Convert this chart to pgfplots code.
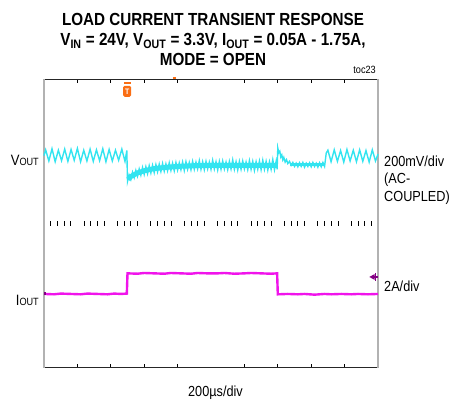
\documentclass[border=0pt]{standalone}
\usepackage{pgfplots}
\pgfplotsset{compat=1.18}
\usepackage{fontspec}
\setmainfont[FakeStretch=0.87]{Liberation Sans}
\definecolor{vout}{RGB}{50,228,240}
\definecolor{iout}{RGB}{240,20,235}
\definecolor{trig}{RGB}{250,110,20}
\definecolor{gnd}{RGB}{130,0,130}
\begin{document}
\begin{tikzpicture}
\useasboundingbox (0,0) rectangle (451pt,400pt);
\begin{axis}[
    at={(44pt,32pt)}, anchor=south west,
    scale only axis, width=334pt, height=289pt,
    xmin=0, xmax=10, ymin=-4, ymax=4,
    xtick={1,2,3,4,6,7,8,9}, xticklabels={},
    ytick=\empty,
    tick align=inside, major tick length=4pt,
    tick style={black, line width=0.8pt},
    separate axis lines,
    x axis line style={black!85, line width=1pt},
    y axis line style={black!30, line width=1.6pt},
    clip=false,
]
% centre graticule dashes
\addplot[only marks, mark=|, mark size=2.5pt, mark options={black, line width=0.8pt}] coordinates {
 (0.2,0)(0.4,0)(0.6,0)(0.8,0)(1.2,0)(1.4,0)(1.6,0)(1.8,0)(2.2,0)(2.4,0)(2.6,0)(2.8,0)
 (3.2,0)(3.4,0)(3.6,0)(3.8,0)(4.2,0)(4.4,0)(4.6,0)(4.8,0)(5.2,0)(5.4,0)(5.6,0)(5.8,0)
 (6.2,0)(6.4,0)(6.6,0)(6.8,0)(7.2,0)(7.4,0)(7.6,0)(7.8,0)(8.2,0)(8.4,0)(8.6,0)(8.8,0)
 (9.2,0)(9.4,0)(9.6,0)(9.8,0)};
% VOUT: solid core of the noise band
\addplot[vout, line width=5pt] coordinates {
 (2.52,1.22)(2.6,1.30)(2.8,1.40)(3.0,1.46)(3.3,1.52)(3.6,1.55)(4.0,1.58)(4.5,1.60)
 (5.0,1.61)(6.0,1.61)(6.97,1.61)};
\addplot[vout, line width=3pt] coordinates {(7.38,1.63)(8.40,1.63)};
% VOUT trace
\addplot[vout, line width=1.4pt] coordinates {
 (0,1.88)(0.05,2.04)(0.145,1.73)(0.24,2.07)(0.335,1.71)(0.43,2.03)(0.525,1.74)(0.62,2.06)
 (0.715,1.72)(0.81,2.05)(0.905,1.75)(1.00,2.08)(1.095,1.71)(1.19,2.03)(1.285,1.73)(1.38,2.06)
 (1.475,1.72)(1.57,2.04)(1.665,1.74)(1.76,2.07)(1.855,1.71)(1.95,2.05)(2.045,1.73)(2.14,2.03)
 (2.235,1.75)(2.33,2.06)(2.425,1.72)(2.48,2.02)
 (2.50,1.16)(2.55,1.34)(2.60,1.22)(2.65,1.42)(2.70,1.27)(2.75,1.47)(2.80,1.31)(2.85,1.51)
 (2.90,1.34)(2.95,1.55)(3.00,1.36)(3.05,1.57)(3.10,1.38)(3.15,1.60)(3.20,1.40)(3.25,1.61)
 (3.30,1.41)(3.35,1.63)(3.40,1.43)(3.45,1.64)(3.50,1.44)(3.55,1.66)(3.60,1.45)(3.65,1.65)
 (3.70,1.46)(3.75,1.68)(3.80,1.47)(3.85,1.67)(3.90,1.46)(3.95,1.69)(4.00,1.48)(4.05,1.68)
 (4.10,1.49)(4.15,1.70)(4.20,1.47)(4.25,1.71)(4.30,1.50)(4.35,1.69)(4.40,1.49)(4.45,1.72)
 (4.50,1.50)(4.55,1.70)(4.60,1.51)(4.65,1.74)(4.70,1.50)(4.75,1.71)(4.80,1.49)(4.85,1.72)
 (4.90,1.51)(4.95,1.70)(5.00,1.50)(5.05,1.75)(5.10,1.51)(5.15,1.71)(5.20,1.48)(5.25,1.72)
 (5.30,1.50)(5.35,1.73)(5.40,1.51)(5.45,1.70)(5.50,1.49)(5.55,1.72)(5.60,1.51)(5.65,1.76)
 (5.70,1.50)(5.75,1.71)(5.80,1.48)(5.85,1.72)(5.90,1.50)(5.95,1.73)(6.00,1.51)(6.05,1.70)
 (6.10,1.49)(6.15,1.74)(6.20,1.50)(6.25,1.72)(6.30,1.47)(6.35,1.71)(6.40,1.50)(6.45,1.73)
 (6.50,1.49)(6.55,1.75)(6.60,1.50)(6.65,1.72)(6.70,1.48)(6.75,1.71)(6.80,1.50)(6.85,1.77)
 (6.90,1.49)(6.95,1.72)(6.98,1.50)
 (7.00,2.09)(7.03,1.96)(7.06,2.00)(7.09,1.84)(7.12,1.90)(7.15,1.76)(7.18,1.83)(7.22,1.70)
 (7.26,1.77)(7.30,1.66)(7.35,1.72)(7.40,1.61)(7.45,1.69)(7.50,1.58)(7.55,1.67)(7.60,1.57)
 (7.65,1.68)(7.70,1.58)(7.75,1.69)(7.80,1.56)(7.85,1.67)(7.90,1.58)(7.95,1.68)(8.00,1.57)
 (8.05,1.69)(8.10,1.58)(8.15,1.67)(8.20,1.56)(8.25,1.68)(8.30,1.57)(8.35,1.69)(8.40,1.58)
 (8.45,1.95)(8.50,2.03)(8.595,1.71)(8.69,2.04)(8.785,1.72)(8.88,2.02)(8.975,1.70)(9.07,2.05)
 (9.165,1.73)(9.26,2.03)(9.355,1.71)(9.45,2.04)(9.545,1.72)(9.64,2.02)(9.735,1.70)(9.83,2.04)
 (9.925,1.73)(10.0,1.92)};
% IOUT
\addplot[iout, line width=2.4pt] coordinates {
 (0,-1.95)(0.3,-1.96)(0.5,-1.94)(0.8,-1.95)(1.1,-1.96)(1.3,-1.94)(1.6,-1.95)(1.9,-1.96)
 (2.1,-1.94)(2.3,-1.95)(2.48,-1.94)
 (2.50,-1.38)(2.8,-1.39)(3.0,-1.37)(3.3,-1.38)(3.6,-1.39)(3.8,-1.37)(4.1,-1.38)(4.4,-1.39)
 (4.6,-1.37)(4.9,-1.38)(5.2,-1.38)(5.4,-1.37)(5.7,-1.39)(6.0,-1.38)(6.2,-1.37)(6.5,-1.38)
 (6.8,-1.39)(6.98,-1.38)
 (7.00,-1.96)(7.3,-1.95)(7.6,-1.96)(7.8,-1.95)(8.1,-1.97)(8.4,-1.95)(8.6,-1.96)(8.9,-1.95)
 (9.2,-1.96)(9.4,-1.95)(9.7,-1.96)(10.0,-1.95)};
% markers
\fill[gnd] (axis cs:0,-1.99) rectangle (axis cs:0.07,-1.89);
\fill[gnd] (axis cs:9.74,-1.48) -- (axis cs:9.90,-1.40) -- (axis cs:9.90,-1.56) -- cycle;
\draw[gnd, line width=1.1pt] (axis cs:9.84,-1.48) -- (axis cs:10.0,-1.48);
\draw[gnd, line width=1.1pt] (axis cs:9.93,-1.37) -- (axis cs:9.93,-1.59);
\draw[trig, line width=2pt] (axis cs:2.39,3.90) -- (axis cs:2.59,3.90);
\node[fill=trig, text=white, font=\bfseries\fontsize{8}{8}\selectfont, inner sep=0pt,
      minimum width=8pt, minimum height=11pt, rounded corners=1.5pt] at (axis cs:2.49,3.66) {T};
\draw[trig, line width=1.5pt] (axis cs:3.86,4.03) -- (axis cs:3.94,4.03);
\end{axis}
\node[anchor=base, inner sep=0pt, font=\bfseries\fontsize{17.5}{20}\selectfont] at (213pt,374.3pt) {LOAD CURRENT TRANSIENT RESPONSE};
\node[anchor=base, inner sep=0pt, font=\bfseries\fontsize{17.5}{20}\selectfont] at (213pt,354.3pt) {V\textsubscript{IN} = 24V, V\textsubscript{OUT} = 3.3V, I\textsubscript{OUT} = 0.05A - 1.75A,};
\node[anchor=base, inner sep=0pt, font=\bfseries\fontsize{17.5}{20}\selectfont] at (213pt,334.3pt) {MODE = OPEN};
\node[anchor=base east, inner sep=0pt, font=\fontsize{10.5}{12}\selectfont] at (376pt,326pt) {toc23};
\node[anchor=base east, inner sep=0pt] at (39pt,234pt) {\fontsize{15}{18}\selectfont V\fontsize{10.5}{12}\selectfont OUT};
\node[anchor=base east, inner sep=0pt] at (39pt,94pt) {\fontsize{15}{18}\selectfont I\fontsize{10.5}{12}\selectfont OUT};
\node[anchor=base west, inner sep=0pt, font=\fontsize{14.6}{18}\selectfont] at (384pt,233.3pt) {200mV/div};
\node[anchor=base west, inner sep=0pt, font=\fontsize{14.6}{18}\selectfont] at (384pt,216pt) {(AC-};
\node[anchor=base west, inner sep=0pt, font=\fontsize{14.6}{18}\selectfont] at (384pt,198.5pt) {COUPLED)};
\node[anchor=base west, inner sep=0pt, font=\fontsize{14.6}{18}\selectfont] at (384pt,108.3pt) {2A/div};
\node[anchor=base, inner sep=0pt, font=\fontsize{14.6}{18}\selectfont] at (215.5pt,3pt) {200µs/div};
\end{tikzpicture}
\end{document}
